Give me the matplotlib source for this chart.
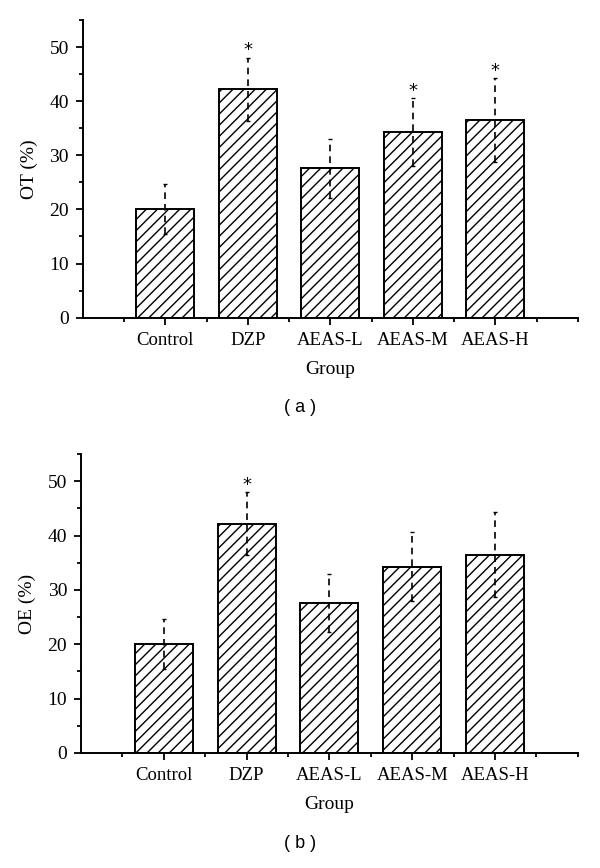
import matplotlib
matplotlib.use('Agg')
import matplotlib.pyplot as plt
from matplotlib.ticker import MultipleLocator, FixedLocator

groups = ['Control', 'DZP', 'AEAS-L', 'AEAS-M', 'AEAS-H']
ot_mean = [20.1, 42.2, 27.6, 34.3, 36.5]
ot_err = [4.6, 5.8, 5.4, 6.3, 7.8]
ot_star = [False, True, False, True, True]
oe_mean = [20.1, 42.2, 27.6, 34.3, 36.5]
oe_err = [4.6, 5.8, 5.4, 6.3, 7.8]
oe_star = [False, True, False, False, False]

plt.rcParams['hatch.linewidth'] = 1.0
serif = 'Liberation Serif'

fig = plt.figure(figsize=(6, 8.68), dpi=100)


def draw_panel(ax, means, errs, stars, ylabel):
    x = list(range(1, len(groups) + 1))
    ax.bar(x, means, width=0.7, color='white', edgecolor='black',
           hatch='///', linewidth=1.4, zorder=2)
    eb = ax.errorbar(x, means, yerr=errs, fmt='none', ecolor='black',
                     elinewidth=1.2, capsize=1.5, capthick=1.0, zorder=3)
    for c in eb[2]:
        c.set_linestyle((0, (4, 3)))
    for xi, m, e, s in zip(x, means, errs, stars):
        if s:
            ax.text(xi, m + e - 0.3, '*', ha='center', va='bottom',
                    fontsize=13, family='DejaVu Sans')
    ax.set_xlim(0, 6)
    ax.set_ylim(0, 55)
    ax.xaxis.set_major_locator(FixedLocator(x))
    ax.xaxis.set_minor_locator(FixedLocator([0.5, 1.5, 2.5, 3.5, 4.5, 5.5, 6]))
    ax.set_xticklabels(groups, family=serif, fontsize=13.5)
    ax.yaxis.set_major_locator(FixedLocator([0, 10, 20, 30, 40, 50]))
    ax.yaxis.set_minor_locator(MultipleLocator(5))
    for lab in ax.get_yticklabels():
        lab.set_family(serif)
        lab.set_fontsize(14)
    ax.tick_params(which='major', direction='out', length=5, width=1.3, pad=5)
    ax.tick_params(which='minor', direction='out', length=3, width=1.3)
    ax.spines['top'].set_visible(False)
    ax.spines['right'].set_visible(False)
    ax.spines['left'].set_linewidth(1.4)
    ax.spines['bottom'].set_linewidth(1.4)
    ax.set_xlabel('Group', family=serif, fontsize=14, labelpad=9)
    ax.set_ylabel(ylabel, family=serif, fontsize=14, labelpad=8)


ax1 = fig.add_axes([0.138, 0.634, 0.825, 0.343])
draw_panel(ax1, ot_mean, ot_err, ot_star, 'OT (%)')
ax2 = fig.add_axes([0.135, 0.1325, 0.828, 0.3445])
draw_panel(ax2, oe_mean, oe_err, oe_star, 'OE (%)')

fig.text(0.5, 1 - 407 / 868, '( a )', ha='center', va='center',
         family='Liberation Sans', fontsize=13)
fig.text(0.5, 1 - 843 / 868, '( b )', ha='center', va='center',
         family='Liberation Sans', fontsize=13)

fig.savefig('out.png', dpi=100)
